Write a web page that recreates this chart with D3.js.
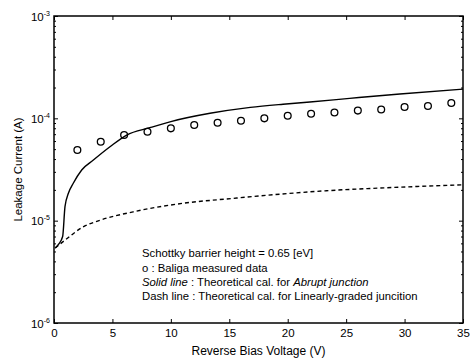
<!DOCTYPE html>
<html>
<head>
<meta charset="utf-8">
<script src="https://cdn.jsdelivr.net/npm/d3@7"></script>
<style>
  body { margin: 0; background: #fff; }
  text { font-family: Arial, "Liberation Sans", sans-serif; fill: #000; }
</style>
</head>
<body>
<svg id="chart" width="474" height="359"></svg>
<script>
// ---- data ----
const measVoltage = [2, 4, 6, 8, 10, 12, 14, 16, 18, 20, 22, 24, 26, 28, 30, 32, 34];
const measCurrent = [4.90e-5, 5.9e-5, 6.87e-5, 7.4e-5, 7.98e-5, 8.61e-5, 9.06e-5, 9.48e-5, 1.0e-4, 1.06e-4, 1.11e-4, 1.14e-4, 1.19e-4, 1.22e-4, 1.29e-4, 1.32e-4, 1.41e-4];

const abruptVoltage = [0.1, 0.4, 0.74, 0.94, 1.23, 1.65, 2.37, 3.37, 4.79, 6.22, 8.2, 10, 13.35, 16.8, 19.6, 21.9, 25.3, 29.6, 35];
const abruptCurrent = [5.4e-6, 5.9e-6, 7.0e-6, 1.37e-5, 1.85e-5, 2.32e-5, 3.13e-5, 3.91e-5, 5.27e-5, 6.87e-5, 8.1e-5, 9.3e-5, 1.12e-4, 1.28e-4, 1.375e-4, 1.445e-4, 1.567e-4, 1.73e-4, 1.93e-4];

const linearVoltage = [0.1, 0.94, 2.5, 3.94, 6.77, 11.07, 15.3, 18.2, 23.3, 29.0, 35];
const linearCurrent = [5.4e-6, 6.45e-6, 8.7e-6, 1.01e-5, 1.22e-5, 1.48e-5, 1.65e-5, 1.77e-5, 1.96e-5, 2.11e-5, 2.24e-5];

const xTicks = [0, 5, 10, 15, 20, 25, 30, 35];
const yTicks = [1e-6, 1e-5, 1e-4, 1e-3];
const yTickExponents = ["-6", "-5", "-4", "-3"];

const xTitle = "Reverse Bias Voltage (V)";
const yTitle = "Leakage Current (A)";

// ---- layout ----
const svg = d3.select("#chart");
const L = 54, R = 463, T = 16, B = 323;

const x = d3.scaleLinear().domain([0, 35]).range([L, R]);
const y = d3.scaleLog().domain([1e-6, 1e-3]).range([B, T]);

const minorTicks = [];
for (let e = -6; e < -3; e++) for (let m = 2; m <= 9; m++) minorTicks.push(m * Math.pow(10, e));

const fontSize = 11.5;

// bottom axis
const gB = svg.append("g").attr("transform", `translate(0,${B})`)
  .call(d3.axisBottom(x).tickValues(xTicks).tickSize(-4).tickPadding(6).tickFormat(d3.format("d")));
gB.select(".domain").remove();
gB.selectAll("text").attr("font-size", fontSize).attr("fill", "#000");
// top axis
const gT = svg.append("g").attr("transform", `translate(0,${T})`)
  .call(d3.axisTop(x).tickValues(xTicks).tickSize(-4).tickFormat(""));
gT.select(".domain").remove();

// left axis
const gL = svg.append("g").attr("transform", `translate(${L},0)`)
  .call(d3.axisLeft(y).tickValues(yTicks).tickSize(-4).tickPadding(4).tickFormat(""));
gL.select(".domain").remove();
gL.selectAll(".tick").each(function(d, i) {
  const t = d3.select(this).append("text")
    .attr("x", -4).attr("y", 4).attr("text-anchor", "end")
    .attr("font-size", fontSize).attr("fill", "#000");
  t.append("tspan").text("10");
  t.append("tspan").attr("font-size", 7).attr("dy", -5).text(yTickExponents[i]);
});
const gLm = svg.append("g").attr("transform", `translate(${L},0)`)
  .call(d3.axisLeft(y).tickValues(minorTicks).tickSize(-2).tickFormat(""));
gLm.select(".domain").remove();

// right axis
const gR = svg.append("g").attr("transform", `translate(${R},0)`)
  .call(d3.axisRight(y).tickValues(yTicks).tickSize(-4).tickFormat(""));
gR.select(".domain").remove();
const gRm = svg.append("g").attr("transform", `translate(${R},0)`)
  .call(d3.axisRight(y).tickValues(minorTicks).tickSize(-2).tickFormat(""));
gRm.select(".domain").remove();

svg.selectAll(".tick line").attr("stroke", "#000").attr("stroke-width", 1);

// frame
svg.append("rect").attr("x", L).attr("y", T).attr("width", R - L).attr("height", B - T)
  .attr("fill", "none").attr("stroke", "#000").attr("stroke-width", 1.5);

// curves
const line = d3.line().x(d => x(d[0])).y(d => y(d[1])).curve(d3.curveMonotoneX);
svg.append("path").datum(abruptVoltage.map((v, i) => [v, abruptCurrent[i]]))
  .attr("d", line).attr("fill", "none").attr("stroke", "#000").attr("stroke-width", 1.4);
svg.append("path").datum(linearVoltage.map((v, i) => [v, linearCurrent[i]]))
  .attr("d", line).attr("fill", "none").attr("stroke", "#000").attr("stroke-width", 1.4)
  .attr("stroke-dasharray", "4,3");

// measured points
svg.append("g").selectAll("circle").data(measVoltage.map((v, i) => [v, measCurrent[i]]))
  .join("circle").attr("cx", d => x(d[0])).attr("cy", d => y(d[1])).attr("r", 3.4)
  .attr("fill", "none").attr("stroke", "#000").attr("stroke-width", 1.3);

// axis titles
svg.append("text").attr("x", (L + R) / 2).attr("y", 355).attr("text-anchor", "middle")
  .attr("font-size", 12).text(xTitle);
svg.append("text").attr("transform", `translate(22,${(T + B) / 2}) rotate(-90)`)
  .attr("text-anchor", "middle").attr("font-size", 11.5).text(yTitle);

// annotation
const ann = svg.append("g").attr("font-size", 11.3);
const a1 = ann.append("text").attr("x", 142).attr("y", 257);
a1.text("Schottky barrier height = 0.65 [eV]");
const a2 = ann.append("text").attr("x", 142).attr("y", 272);
a2.text("o : Baliga measured data");
const a3 = ann.append("text").attr("x", 142).attr("y", 286);
a3.append("tspan").attr("font-style", "italic").text("Solid line");
a3.append("tspan").text(" : Theoretical cal. for ");
a3.append("tspan").attr("font-style", "italic").text("Abrupt junction");
const a4 = ann.append("text").attr("x", 142).attr("y", 300);
a4.text("Dash line : Theoretical cal. for Linearly-graded juncition");
</script>
</body>
</html>
